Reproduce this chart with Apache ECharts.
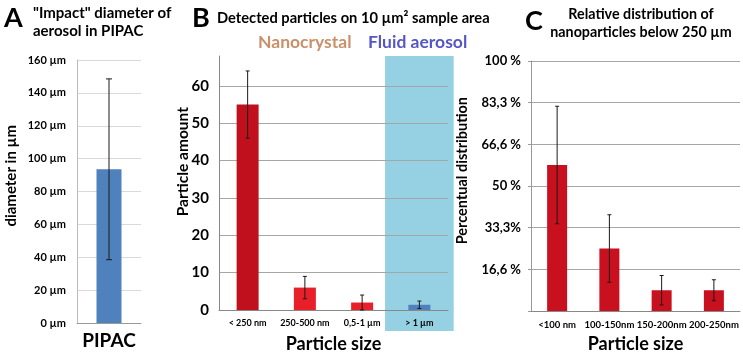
<!DOCTYPE html>
<html>
<head>
<meta charset="utf-8">
<script src="https://cdn.jsdelivr.net/npm/echarts@6/dist/echarts.min.js"></script>
<style>
  html, body { margin: 0; padding: 0; background: #fff; }
  #chart { width: 743px; height: 358px; }
</style>
</head>
<body>
<div id="chart"></div>
<script>
// panel A
const catsA = ['PIPAC']
const valsA = [93.5]
const errA = [55]

// panel B
const catsB = ['< 250 nm', '250-500 nm', '0,5-1 µm', '> 1 µm']
const valsB = [55, 6, 2, 1.4]
const errB = [9, 3, 2, 1]
const colorsB = ['#C0101D', '#E8202A', '#E8202A', '#4F81BD']

// panel C
const catsC = ['<100 nm', '100-150nm', '150-200nm', '200-250nm']
const valsC = [58.4, 25, 8.3, 8.3]
const errC = [23.5, 13.5, 5.9, 4.2]
const ticksC = ['', '16,6 %', '33,3%', '50 %', '66,6 %', '83,3 %', '100 %']

const FONT = 'Lato'

function errData(vals, errs) {
  return vals.map((v, i) => [i, v - errs[i], v + errs[i]])
}

function errorBars(cap) {
  return function (params, api) {
    const i = api.value(0)
    const lo = api.coord([i, Math.max(0, api.value(1))])
    const hi = api.coord([i, api.value(2)])
    const st = { stroke: '#1a1a1a', lineWidth: 1 }
    return {
      type: 'group',
      children: [
        { type: 'line', shape: { x1: lo[0], y1: lo[1], x2: hi[0], y2: hi[1] }, style: st },
        { type: 'line', shape: { x1: hi[0] - cap, y1: hi[1], x2: hi[0] + cap, y2: hi[1] }, style: st },
        { type: 'line', shape: { x1: lo[0] - cap, y1: lo[1], x2: lo[0] + cap, y2: lo[1] }, style: st }
      ]
    }
  }
}

const chart = echarts.init(document.getElementById('chart'))

const bold = { fontFamily: FONT, fontWeight: 'bold', color: '#000' }

let option = {
  animation: false,
  title: [
    { text: 'A', left: 4, top: 5, padding: 0, textStyle: { ...bold, fontSize: 27 } },
    { text: '"Impact" diameter of\naerosol in PIPAC', left: 33, top: 4, padding: 0,
      textStyle: { ...bold, fontSize: 15, lineHeight: 18 } },
    { text: 'B', left: 192, top: 5, padding: 0, textStyle: { ...bold, fontSize: 27 } },
    { text: 'Detected particles on 10 µm² sample area', left: 217, top: 11, padding: 0,
      textStyle: { ...bold, fontSize: 14.7 } },
    { text: 'Nanocrystal', left: 258, top: 33, padding: 0,
      textStyle: { fontFamily: FONT, fontWeight: 'bold', fontSize: 17.5, color: '#C8916B' } },
    { text: 'Fluid aerosol', left: 368, top: 33, padding: 0,
      textStyle: { fontFamily: FONT, fontWeight: 'bold', fontSize: 17.5, color: '#5656C6' } },
    { text: 'C', left: 525, top: 8, padding: 0, textStyle: { ...bold, fontSize: 27 } },
    { text: 'Relative distribution of\nnanoparticles below 250 µm', left: 641, top: 5, padding: 0,
      textAlign: 'center', textStyle: { ...bold, fontSize: 14.3, lineHeight: 18 } }
  ],
  grid: [
    { left: 77, right: 602, top: 60, bottom: 35 },
    { left: 219, right: 295, top: 56, bottom: 45 },
    { left: 531, right: 3, top: 61, bottom: 43 }
  ],
  xAxis: [
    {
      gridIndex: 0, type: 'category', data: catsA,
      axisLine: { lineStyle: { color: '#999' } },
      axisTick: { length: 4, lineStyle: { color: '#999' } },
      axisLabel: { ...bold, fontSize: 19, margin: 8 }
    },
    {
      gridIndex: 1, type: 'category', data: catsB,
      axisLine: { lineStyle: { color: '#888' } },
      axisTick: { length: 4, lineStyle: { color: '#888' } },
      axisLabel: { ...bold, fontSize: 9, margin: 9, interval: 0 },
      name: 'Particle size', nameLocation: 'middle', nameGap: 25,
      nameTextStyle: { ...bold, fontSize: 18 }
    },
    {
      gridIndex: 2, type: 'category', data: catsC,
      axisLine: { lineStyle: { color: '#888' } },
      axisTick: { length: 4, lineStyle: { color: '#888' } },
      axisLabel: { ...bold, fontSize: 9.5, margin: 9, interval: 0 },
      name: 'Particle size', nameLocation: 'middle', nameGap: 24,
      nameTextStyle: { ...bold, fontSize: 18 }
    }
  ],
  yAxis: [
    {
      gridIndex: 0, type: 'value', min: 0, max: 160, interval: 20,
      axisLine: { show: true, lineStyle: { color: '#bbb' } },
      axisTick: { show: false },
      axisLabel: { ...bold, fontSize: 11, margin: 11, formatter: v => v + ' µm' },
      splitLine: { lineStyle: { color: '#d9d9d9' } }
    },
    {
      gridIndex: 1, type: 'value', min: 0, max: 68, interval: 10,
      axisLine: { show: true, lineStyle: { color: '#888' } },
      axisTick: { show: false },
      axisLabel: { ...bold, fontSize: 15, margin: 10, showMaxLabel: false },
      splitLine: { showMaxLine: false, lineStyle: { color: '#a6a6a6' } }
    },
    {
      gridIndex: 2, type: 'value', min: 0, max: 100, interval: 100 / 6,
      axisLine: { show: true, lineStyle: { color: '#999' } },
      axisTick: { show: true, length: 3, lineStyle: { color: '#999' } },
      axisLabel: { ...bold, fontSize: 13, margin: 10,
        formatter: v => ticksC[Math.round(v / (100 / 6))] },
      splitLine: { lineStyle: { color: '#a6a6a6' } }
    }
  ],
  graphic: [
    { type: 'text', left: 4, top: 125, rotation: Math.PI / 2,
      style: { text: 'diameter in µm', font: 'bold 15px ' + FONT, fill: '#000' } },
    { type: 'text', left: 175, top: 107, rotation: Math.PI / 2,
      style: { text: 'Particle amount', font: 'bold 15.5px ' + FONT, fill: '#000' } },
    { type: 'text', left: 455, top: 97, rotation: Math.PI / 2,
      style: { text: 'Percentual distribution', font: 'bold 14.5px ' + FONT, fill: '#000' } }
  ],
  series: [
    {
      type: 'bar', xAxisIndex: 0, yAxisIndex: 0, barWidth: 25,
      itemStyle: { color: '#4F81BD' }, data: valsA
    },
    {
      type: 'custom', xAxisIndex: 0, yAxisIndex: 0, z: 5,
      renderItem: errorBars(3), data: errData(valsA, errA)
    },
    {
      // blue background for the fluid aerosol category
      type: 'custom', xAxisIndex: 1, yAxisIndex: 1, z: -1, silent: true,
      renderItem: function (params, api) {
        const top = api.coord([api.value(0), api.value(1)])
        const base = api.coord([api.value(0), 0])
        const w = api.size([1, 0])[0] * 1.2
        return {
          type: 'rect',
          shape: { x: top[0] - w / 2, y: top[1], width: w, height: base[1] - top[1] + 21 },
          style: { fill: '#96D1E3' }
        }
      },
      data: [[3, 68]]
    },
    {
      type: 'bar', xAxisIndex: 1, yAxisIndex: 1, barWidth: 22,
      data: valsB.map((v, i) => ({ value: v, itemStyle: { color: colorsB[i] } }))
    },
    {
      type: 'custom', xAxisIndex: 1, yAxisIndex: 1, z: 5,
      renderItem: errorBars(2), data: errData(valsB, errB)
    },
    {
      type: 'bar', xAxisIndex: 2, yAxisIndex: 2, barWidth: 20,
      itemStyle: { color: '#C8101E' }, data: valsC
    },
    {
      type: 'custom', xAxisIndex: 2, yAxisIndex: 2, z: 5,
      renderItem: errorBars(2), data: errData(valsC, errC)
    }
  ]
}

chart.setOption(option)
</script>
</body>
</html>
